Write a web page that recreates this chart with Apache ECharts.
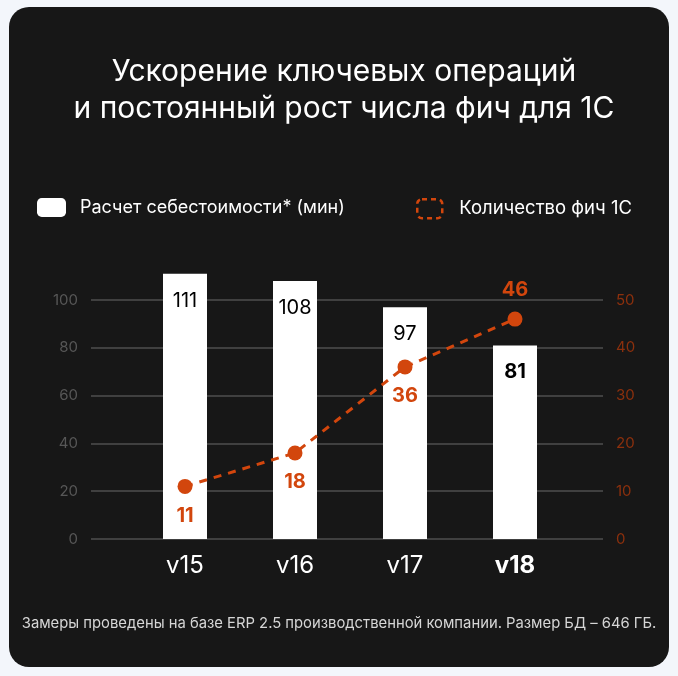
<!DOCTYPE html>
<html lang="ru">
<head>
    <meta charset="UTF-8">
    <title>1C features chart</title>
    <style>
        html, body { margin: 0; padding: 0; background: #f3f6fb; }
    </style>
</head>
<body>
<div id="chart" style="width: 678px; height: 676px;"></div>
<script type="text/javascript" src="https://cdn.jsdelivr.net/npm/echarts@6/dist/echarts.min.js"></script>
<script type="text/javascript">
    // данные
    let versions = ['v15', 'v16', 'v17', 'v18'];
    let costMinutes = [111, 108, 97, 81];
    let featureCount = [11, 18, 36, 46];
    let featureLabelPos = ['bottom', 'bottom', 'bottom', 'top'];
    let leftTicks = {min: 0, max: 100, interval: 20};
    let rightTicks = {min: 0, max: 50, interval: 10};

    let orange = '#d2460d';
    let font = 'Inter';

    let myChart = echarts.init(document.getElementById('chart'));

    let option = {
        backgroundColor: '#f3f6fb',
        textStyle: {fontFamily: font},
        graphic: [{
            type: 'rect',
            z: -10,
            shape: {x: 9, y: 7, width: 660, height: 660, r: 20},
            style: {fill: '#171717'}
        }],
        title: [{
            text: 'Ускорение ключевых операций\nи постоянный рост числа фич для 1С',
            left: 339,
            top: 48,
            textAlign: 'center',
            textStyle: {color: '#ffffff', fontSize: 30, fontWeight: 'normal', lineHeight: 37, fontFamily: font, align: 'center'}
        }, {
            text: 'Замеры проведены на базе ERP 2.5 производственной компании. Размер БД – 646 ГБ.',
            left: 'center',
            top: 611,
            textStyle: {color: '#d6d6d6', fontSize: 14.8, fontWeight: 'normal', fontFamily: font}
        }],
        legend: [{
            left: 32,
            top: 193,
            icon: 'roundRect',
            itemWidth: 29,
            itemHeight: 19,
            textStyle: {color: '#ffffff', fontSize: 18, padding: [0, 0, 0, 9]},
            data: [{name: 'Расчет себестоимости* (мин)', itemStyle: {color: '#ffffff'}}]
        }, {
            left: 411,
            top: 193,
            icon: 'roundRect',
            itemWidth: 25,
            itemHeight: 19,
            textStyle: {color: '#ffffff', fontSize: 18.5, padding: [0, 0, 0, 12]},
            data: [{
                name: 'Количество фич 1С',
                itemStyle: {color: 'transparent', borderColor: orange, borderWidth: 2.5, borderType: [5, 4]},
                lineStyle: {opacity: 0}
            }]
        }],
        grid: [
            {left: 91, width: 512, top: 300, height: 239},
            {left: 130, width: 440, top: 300, height: 239}
        ],
        xAxis: [{
            gridIndex: 0,
            type: 'category',
            data: versions,
            show: false
        }, {
            gridIndex: 1,
            type: 'category',
            data: versions,
            axisLine: {show: false},
            axisTick: {show: false},
            axisLabel: {
                color: '#ffffff',
                fontSize: 24,
                margin: 15,
                formatter: function (v) {
                    return v === 'v18' ? '{b|' + v + '}' : v;
                },
                rich: {b: {fontWeight: 'bold', fontSize: 24, color: '#ffffff'}}
            }
        }],
        yAxis: [{
            gridIndex: 0,
            type: 'value',
            min: leftTicks.min,
            max: leftTicks.max,
            interval: leftTicks.interval,
            axisLine: {show: false},
            axisTick: {show: false},
            axisLabel: {color: '#575757', fontSize: 15, margin: 13},
            splitLine: {lineStyle: {color: '#4f4f4f', width: 1.5}}
        }, {
            gridIndex: 0,
            type: 'value',
            position: 'right',
            min: rightTicks.min,
            max: rightTicks.max,
            interval: rightTicks.interval,
            axisLine: {show: false},
            axisTick: {show: false},
            axisLabel: {color: '#8c300d', fontSize: 15, margin: 13},
            splitLine: {show: false}
        }, {
            gridIndex: 1,
            type: 'value',
            min: leftTicks.min,
            max: leftTicks.max,
            show: false
        }, {
            gridIndex: 1,
            type: 'value',
            min: rightTicks.min,
            max: rightTicks.max,
            show: false
        }],
        series: [{
            name: 'Расчет себестоимости* (мин)',
            type: 'bar',
            xAxisIndex: 1,
            yAxisIndex: 2,
            clip: false,
            barWidth: 44,
            itemStyle: {color: '#ffffff'},
            label: {
                show: true,
                position: 'insideTop',
                distance: 17,
                color: '#000000',
                fontSize: 20
            },
            data: costMinutes.map(function (v, i) {
                let item = {value: v};
                if (i === costMinutes.length - 1) {
                    item.label = {fontWeight: 'bold'};
                }
                return item;
            })
        }, {
            name: 'Количество фич 1С',
            type: 'line',
            xAxisIndex: 1,
            yAxisIndex: 3,
            z: 5,
            symbol: 'circle',
            symbolSize: 15,
            itemStyle: {color: orange},
            lineStyle: {color: orange, width: 3, type: [8, 7]},
            label: {
                show: true,
                distance: 12,
                color: orange,
                fontSize: 20,
                fontWeight: 'bold'
            },
            data: featureCount.map(function (v, i) {
                return {value: v, label: {position: featureLabelPos[i]}};
            })
        }]
    };

    myChart.setOption(option);
</script>
</html>
